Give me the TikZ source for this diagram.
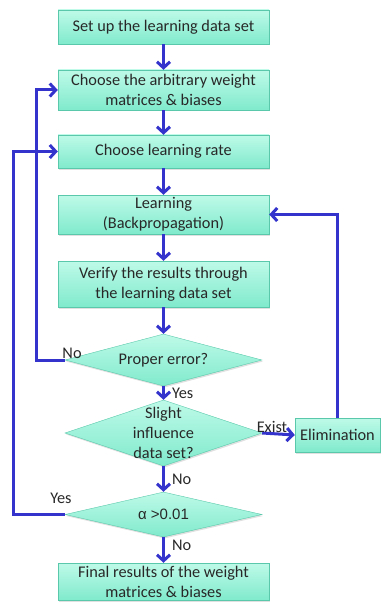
\documentclass[tikz,border=0pt]{standalone}
\usepackage{fontspec}
\setmainfont{Carlito}
\newfontfamily\arialfont{Liberation Sans}
\usetikzlibrary{math}
\usetikzlibrary{positioning}
\usetikzlibrary{shapes.geometric}
\usetikzlibrary{arrows.meta}
\usetikzlibrary{shadows}
\definecolor{boxtop}{RGB}{190,250,232}
\definecolor{boxbot}{RGB}{128,234,204}
\definecolor{boxline}{RGB}{90,200,170}
\definecolor{flowblue}{RGB}{52,52,205}
\definecolor{inkgray}{RGB}{40,40,40}
\tikzset{
	stepbox/.style={rectangle, draw=boxline, top color=boxtop, bottom color=boxbot,
		minimum width=211pt, align=center, inner sep=1pt, text=inkgray,
		font=\fontsize{16.3}{20}\selectfont,
		drop shadow={shadow xshift=1pt, shadow yshift=-1.5pt, fill=black!30, opacity=0.4}},
	decision/.style={diamond, draw=boxline, top color=boxtop, bottom color=boxbot,
		minimum width=197pt, inner sep=0pt,
		drop shadow={shadow xshift=1pt, shadow yshift=-1.5pt, fill=black!30, opacity=0.4}},
	flow/.style={draw=flowblue, line width=3pt, -{Straight Barb[length=6pt,width=13pt]}},
	note/.style={font=\fontsize{16.3}{20}\selectfont, inner sep=1pt, text=inkgray},
}

\begin{document}
\begin{tikzpicture}[x=1pt,y=-1pt]
	\useasboundingbox (0,0) rectangle (381,604);
	\tikzmath{\cx=163.5; \elx=337.5;
	\ay=27; \by=90; \cy=151.5; \dy=214.5; \ey=284;
	\fy=360; \gy=433; \hy=514.5; \iy=581.5;
	\lx=13; \mx=36;
	}
	\node[stepbox, minimum height=34pt] (setup) at (\cx,\ay) {Set up the learning data set};
	\node[stepbox, minimum height=40pt] (weights) at (\cx,\by) {Choose the arbitrary weight\\matrices \& biases};
	\node[stepbox, minimum height=33pt] (rate) at (\cx,\cy) {Choose learning rate};
	\node[stepbox, minimum height=39pt] (learn) at (\cx,\dy) {Learning\\(Backpropagation)};
	\node[stepbox, minimum height=46pt] (verify) at (\cx,\ey) {Verify the results through\\the learning data set};
	\node[decision, minimum height=52pt, label={[note]center:Proper error?}] (err) at (\cx,\fy) {};
	\node[decision, minimum height=66pt, label={[note, align=center]center:Slight\\influence\\data set?}] (infl) at (\cx,\gy) {};
	\node[decision, minimum height=45pt, label={[note, font=\arialfont\fontsize{15}{18}\selectfont]center:α >0.01}] (alpha) at (\cx,\hy) {};
	\node[stepbox, minimum height=37pt] (final) at (\cx,\iy) {Final results of the weight\\matrices \& biases};
	\node[stepbox, minimum width=85pt, minimum height=34pt] (elim) at (\elx,\gy+2) {Elimination};
	\coordinate (noturn) at (\mx,\fy);
	\coordinate (yesturn) at (\lx,\hy);
	\draw[flow] (setup) -- (weights);
	\draw[flow] (weights) -- (rate);
	\draw[flow] (rate) -- (learn);
	\draw[flow] (learn) -- (verify);
	\draw[flow] (verify) -- (err);
	\draw[flow] (err.south) -- (infl.north) node[note, pos=0.5, right=6pt]{Yes};
	\draw[flow] (infl.south) -- (alpha.north) node[note, midway, right=6pt]{No};
	\draw[flow] (alpha.south) -- (final.north) node[note, pos=0.3, right=6pt]{No};
	\draw[flow] (infl.east) -- (elim.west) node[note, pos=0.3, above=-2pt]{Exist};
	\draw[flow] (elim.north) |- (learn.east);
	\draw[flow] (err.west) -- (noturn) |- (weights.west);
	\draw[flow] (alpha.west) -- (yesturn) |- (rate.west);
	\node[note, above left=0pt and -18pt of err.west] (nolabel) {No};
	\node[note, above left=10pt and -8pt of alpha.west] (yeslabel) {Yes};
\end{tikzpicture}
\end{document}
